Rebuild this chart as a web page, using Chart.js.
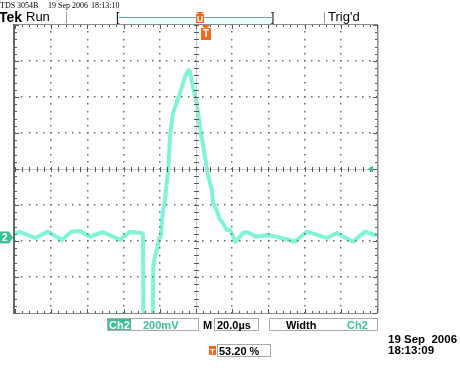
<!DOCTYPE html>
<html>
<head>
<meta charset="utf-8">
<script src="https://cdn.jsdelivr.net/npm/chart.js@4"></script>
<style>
  html, body { margin: 0; padding: 0; background: #fff; }
  canvas { display: block; }
</style>
</head>
<body>
<canvas id="scope" width="460" height="368"></canvas>
<script>
// time in µs relative to screen centre, Ch2 in mV relative to screen centre
let timeUs = [-100, -97.2, -88.9, -81.8, -74.2, -68.7, -64.1, -58.6, -51.4, -42.0, -36.5, -30.0, -29.3,
    -29.0, -24.5, -23.8, -23.6, -22.7, -21.4, -20.3, -19.5, -18.4, -17.1, -16.2, -15.3, -14.4, -12.7,
    -10.7, -8.8, -6.1, -4.1, -3.3, -1.7, 0.4, 2.2, 5.0, 6.6, 8.7, 9.4, 11.4, 13.3, 14.9, 17.0, 18.8,
    21.8, 26.0, 28.0, 33.5, 39.1, 44.6, 54.7, 61.2, 72.2, 77.8, 86.7, 93.4, 98.9, 100]
let ch2mV = [-356, -350, -383, -348, -394, -348, -344, -376, -350, -394, -348, -356, -361,
    -900, -900, -811, -544, -489, -439, -383, -378, -244, -172, -78, -6, 178, 311,
    367, 422, 511, 550, 539, 456, 367, 233, 67, -33, -117, -189, -228, -283, -300, -339, -339,
    -404, -356, -350, -376, -367, -376, -404, -348, -383, -356, -404, -348, -367, -362]

let header = ['TDS 3054B', '19 Sep 2006', '18:13:10']
let status = {brand: 'Tek', mode: 'Run', trig: "Trig'd"}
let readout = {ch: 'Ch2', volts: '200mV', mode: 'M', time: '20.0µs', meas: 'Width', measCh: 'Ch2', trigPos: '53.20 %'}
let stamp = ['19 Sep  2006', '18:13:09']

let triggerLevel = 0   // mV, arrow on right edge
let groundLevel = -380 // mV, Ch2 marker on left edge

const TRACE = '#80f4d6'
const TEAL = '#3cc197'
const ORANGE = '#f06a1e'

function dot(ctx, x, y, s) {
    ctx.fillRect(Math.round(x - s / 2), Math.round(y - s / 2), s, s)
}

const graticule = {
    id: 'graticule',
    beforeDraw(chart) {
        let ctx = chart.ctx
        ctx.save()
        ctx.fillStyle = '#fff'
        ctx.fillRect(0, 0, chart.width, chart.height)
        ctx.restore()
    },
    afterDatasetsDraw(chart) {
        let ctx = chart.ctx
        let xs = chart.scales.x, ys = chart.scales.y
        let a = chart.chartArea
        ctx.save()

        // dotted division lines
        ctx.fillStyle = '#6a6a6a'
        for (let t = -80; t <= 80; t += 20) {
            if (t === 0) continue
            for (let v = -800; v <= 800; v += 40) dot(ctx, xs.getPixelForValue(t), ys.getPixelForValue(v), 1.5)
        }
        for (let v = -600; v <= 600; v += 200) {
            if (v === 0) continue
            for (let t = -100; t <= 100; t += 4) dot(ctx, xs.getPixelForValue(t), ys.getPixelForValue(v), 1.5)
        }

        // centre cross
        let cx = xs.getPixelForValue(0), cy = ys.getPixelForValue(0)
        ctx.strokeStyle = '#c8c8c8'
        ctx.lineWidth = 1
        ctx.beginPath()
        ctx.moveTo(a.left, cy + 0.5); ctx.lineTo(a.right, cy + 0.5)
        ctx.moveTo(cx + 0.5, a.top); ctx.lineTo(cx + 0.5, a.bottom)
        ctx.stroke()
        ctx.strokeStyle = '#555'
        ctx.beginPath()
        for (let t = -100; t <= 100; t += 4) {
            let x = Math.round(xs.getPixelForValue(t)) + 0.5
            ctx.moveTo(x, cy - 2); ctx.lineTo(x, cy + 3)
        }
        for (let v = -800; v <= 800; v += 40) {
            let y = Math.round(ys.getPixelForValue(v)) + 0.5
            ctx.moveTo(cx - 2, y); ctx.lineTo(cx + 3, y)
        }
        ctx.stroke()

        // frame + edge ticks
        ctx.strokeStyle = '#8c8c8c'
        ctx.lineWidth = 1
        ctx.strokeRect(a.left - 0.5, a.top - 0.5, a.right - a.left + 1, a.bottom - a.top + 1)
        ctx.strokeStyle = '#b8c8c4'
        ctx.beginPath(); ctx.moveTo(a.right + 1.5, a.top); ctx.lineTo(a.right + 1.5, a.bottom); ctx.stroke()
        ctx.fillStyle = '#5e6a6a'
        ctx.fillRect(a.left - 2, a.top - 1, 2, a.bottom - a.top + 2)
        ctx.strokeStyle = '#555'
        ctx.beginPath()
        for (let t = -100; t <= 100; t += 4) {
            let x = Math.round(xs.getPixelForValue(t)) + 0.5
            let len = (t % 20 === 0) ? 4 : 2
            ctx.moveTo(x, a.top); ctx.lineTo(x, a.top + len)
            ctx.moveTo(x, a.bottom); ctx.lineTo(x, a.bottom - len)
        }
        for (let v = -800; v <= 800; v += 40) {
            let y = Math.round(ys.getPixelForValue(v)) + 0.5
            let len = (v % 200 === 0) ? 4 : 2
            ctx.moveTo(a.left, y); ctx.lineTo(a.left + len, y)
            ctx.moveTo(a.right, y); ctx.lineTo(a.right - len, y)
        }
        ctx.stroke()

        // trigger level arrow (right)
        let ty = ys.getPixelForValue(triggerLevel)
        ctx.fillStyle = TEAL
        ctx.beginPath()
        ctx.moveTo(a.right - 9, ty); ctx.lineTo(a.right - 4, ty - 3.5); ctx.lineTo(a.right - 4, ty + 3.5)
        ctx.closePath(); ctx.fill()

        // Ch2 ground marker (left)
        let gy = ys.getPixelForValue(groundLevel)
        ctx.fillStyle = TEAL
        ctx.beginPath()
        ctx.moveTo(0, gy - 6); ctx.lineTo(9, gy - 6); ctx.lineTo(13, gy); ctx.lineTo(9, gy + 6); ctx.lineTo(0, gy + 6)
        ctx.closePath(); ctx.fill()
        ctx.fillStyle = '#fff'
        ctx.font = 'bold 10px "Liberation Sans"'
        ctx.textBaseline = 'middle'
        ctx.textAlign = 'left'
        ctx.fillText('2', 2, gy + 0.5)

        // trigger position marker under top edge
        let tx = 206
        ctx.fillStyle = ORANGE
        ctx.beginPath()
        ctx.moveTo(tx - 4, a.top); ctx.lineTo(tx + 4, a.top); ctx.lineTo(tx, a.top + 4)
        ctx.closePath(); ctx.fill()
        ctx.fillRect(tx - 5, a.top + 3, 10, 12)
        ctx.fillStyle = '#fff'
        ctx.font = 'bold 10px "Liberation Sans"'
        ctx.textAlign = 'center'
        ctx.fillText('T', tx, a.top + 9.5)

        // header line
        ctx.fillStyle = '#000'
        ctx.textAlign = 'left'
        ctx.textBaseline = 'alphabetic'
        ctx.font = '8px "Liberation Serif"'
        ctx.fillText(header[0], 0, 8)
        ctx.fillText(header[1], 48, 8)
        ctx.fillText(header[2], 91, 8)

        // status bar
        ctx.font = 'bold 14px "Liberation Sans"'
        ctx.fillText(status.brand, -1, 22)
        ctx.font = '13px "Liberation Sans"'
        ctx.fillText(status.mode, 26, 21)
        ctx.fillText(status.trig, 328, 21)
        ctx.strokeStyle = '#999'
        ctx.beginPath()
        ctx.moveTo(66.5, 12); ctx.lineTo(66.5, 23)
        ctx.moveTo(324.5, 12); ctx.lineTo(324.5, 23)
        ctx.stroke()
        ctx.font = '12px "Liberation Sans"'
        ctx.fillText('[', 116, 21)
        ctx.fillText(']', 271, 21)
        ctx.strokeStyle = TEAL
        ctx.beginPath(); ctx.moveTo(119, 17.5); ctx.lineTo(273, 17.5); ctx.stroke()
        ctx.fillStyle = ORANGE
        ctx.beginPath(); ctx.moveTo(196, 12); ctx.lineTo(204, 12); ctx.lineTo(200, 15); ctx.closePath(); ctx.fill()
        ctx.fillRect(196, 14, 8, 9)
        ctx.fillStyle = '#fff'
        ctx.font = 'bold 9px "Liberation Sans"'
        ctx.textAlign = 'center'
        ctx.fillText('U', 200, 22)

        // readout boxes
        ctx.strokeStyle = '#aaa'
        ctx.strokeRect(107.5, 318.5, 91, 12)
        ctx.strokeRect(214.5, 318.5, 44, 12)
        ctx.strokeRect(269.5, 318.5, 108, 12)
        ctx.fillStyle = TEAL
        ctx.fillRect(108, 319, 23, 11)
        ctx.font = 'bold 11px "Liberation Sans"'
        ctx.textAlign = 'left'
        ctx.fillStyle = '#fff'
        ctx.fillText(readout.ch, 109, 329)
        ctx.fillStyle = TEAL
        ctx.fillText(readout.volts, 143, 329)
        ctx.fillText(readout.measCh, 347, 329)
        ctx.fillStyle = '#000'
        ctx.fillText(readout.mode, 203, 329)
        ctx.fillText(readout.time, 217, 329)
        ctx.fillText(readout.meas, 286, 329)

        // trigger position readout
        ctx.fillStyle = ORANGE
        ctx.fillRect(209, 346, 7, 9)
        ctx.fillStyle = '#fff'
        ctx.font = 'bold 8px "Liberation Sans"'
        ctx.fillText('T', 210, 354)
        ctx.strokeStyle = '#aaa'
        ctx.strokeRect(217.5, 344.5, 53, 12)
        ctx.fillStyle = '#000'
        ctx.font = 'bold 11px "Liberation Sans"'
        ctx.fillText(readout.trigPos, 219, 355)

        // date stamp
        ctx.font = 'bold 11.5px "Liberation Sans"'
        ctx.fillText(stamp[0], 388, 343)
        ctx.fillText(stamp[1], 388, 354)

        ctx.restore()
    }
}

let points = timeUs.map((t, i) => ({x: t, y: ch2mV[i]}))

new Chart(document.getElementById('scope'), {
    type: 'line',
    data: {
        datasets: [{
            data: points,
            borderColor: TRACE,
            borderWidth: 4,
            borderJoinStyle: 'round',
            pointRadius: 0,
            tension: 0,
            fill: false
        }]
    },
    options: {
        responsive: false,
        animation: false,
        layout: {padding: {left: 15, top: 25, right: 83, bottom: 55}},
        plugins: {legend: {display: false}, tooltip: {enabled: false}},
        scales: {
            x: {type: 'linear', min: -100, max: 100, display: false},
            y: {type: 'linear', min: -800, max: 800, display: false}
        }
    },
    plugins: [graticule]
})
</script>
</body>
</html>
